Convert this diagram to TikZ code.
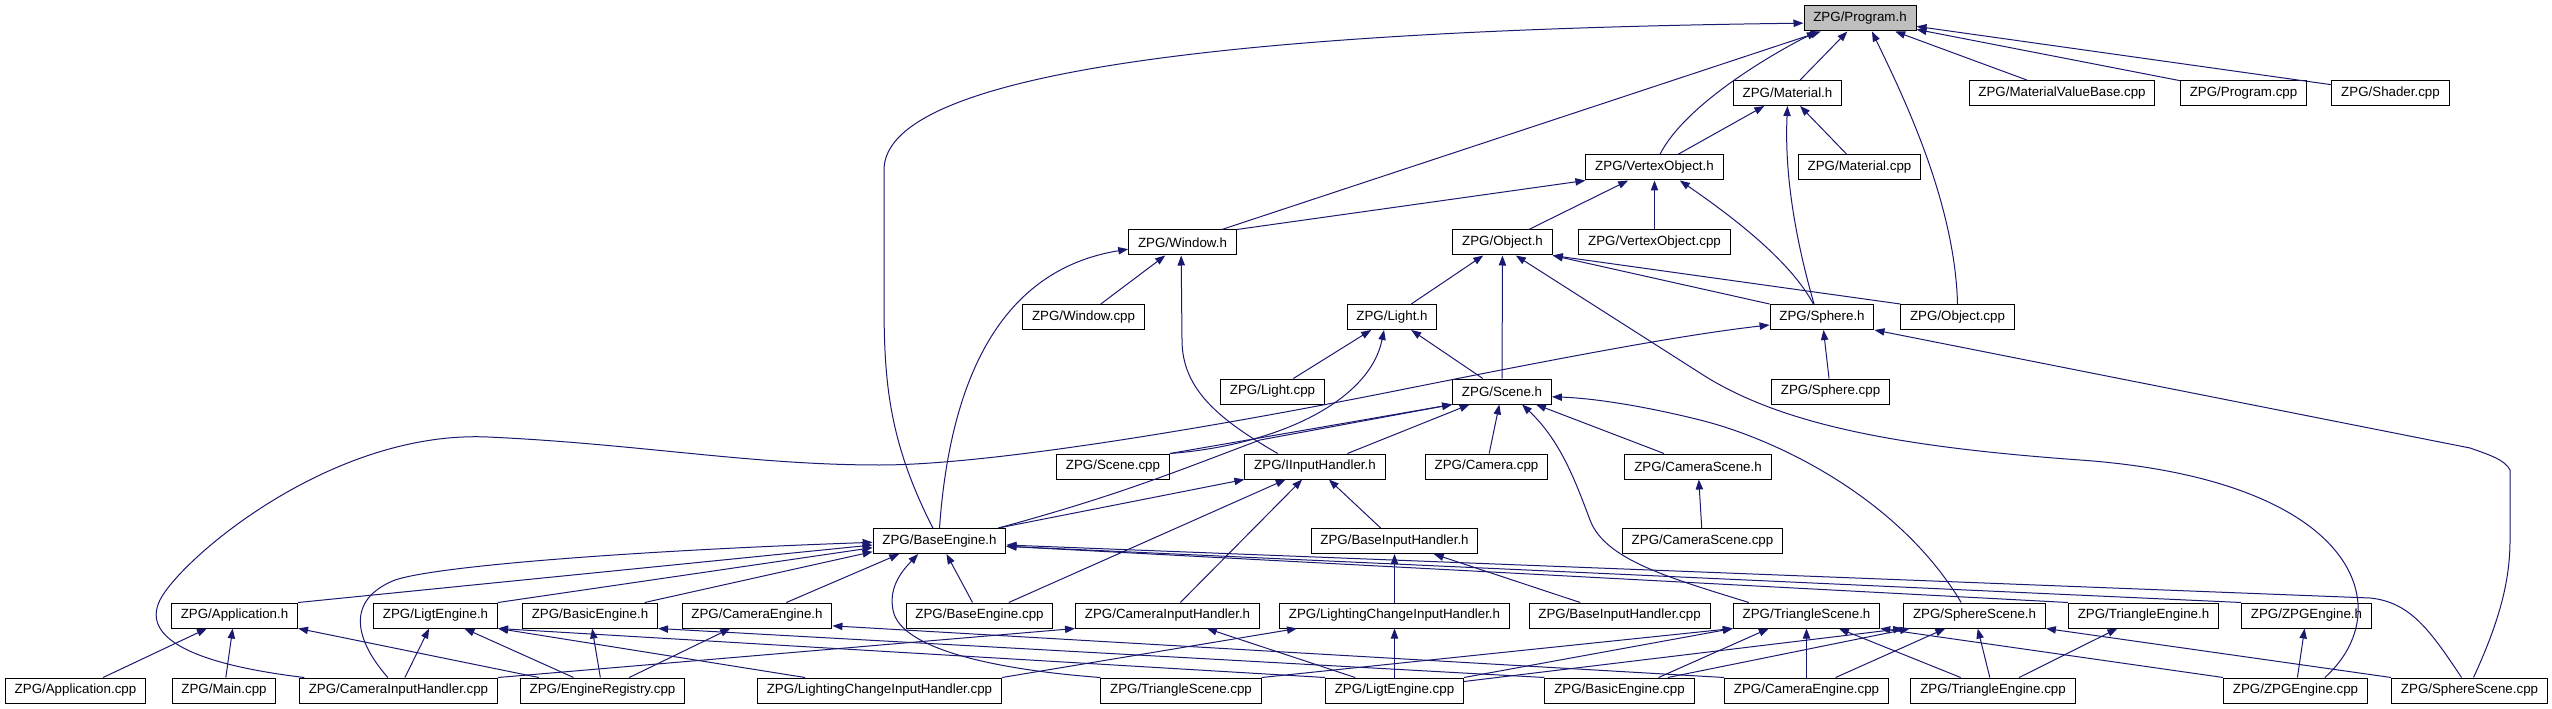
\documentclass[tikz,border=0pt]{standalone}
\usepackage{fontspec}
\setmainfont{Liberation Sans}
\usetikzlibrary{arrows.meta}
\definecolor{depblue}{RGB}{25,25,112}
\definecolor{focusgray}{RGB}{191,191,191}

\begin{document}
\begin{tikzpicture}[
  x=0.75pt, y=-0.75pt,
  font=\fontsize{10}{12}\selectfont,
  file/.style={draw=black,fill=white,line width=0.75pt,
    minimum height=18.75pt,inner xsep=7pt,inner ysep=0pt},
  focus/.style={file,fill=focusgray},
  dep/.style={draw=depblue,line width=0.75pt,
    -{Triangle[length=7.5pt,width=5.5pt]}}
]
  \useasboundingbox (0,0) rectangle (2552,709);

  \node[focus] (prog) at (1860,18.5) {ZPG/Program.h};
  \node[file] (mat) at (1787.5,93) {ZPG/Material.h};
  \node[file] (mvb) at (2062,93) {ZPG/MaterialValueBase.cpp};
  \node[file] (progcpp) at (2243.5,93) {ZPG/Program.cpp};
  \node[file] (shader) at (2390.5,93) {ZPG/Shader.cpp};
  \node[file] (vo) at (1654.5,167.5) {ZPG/VertexObject.h};
  \node[file] (matcpp) at (1859.5,167.5) {ZPG/Material.cpp};
  \node[file] (win) at (1182.5,242.5) {ZPG/Window.h};
  \node[file] (obj) at (1502.5,242.5) {ZPG/Object.h};
  \node[file] (vocpp) at (1654.5,242.5) {ZPG/VertexObject.cpp};
  \node[file] (wincpp) at (1083.5,317) {ZPG/Window.cpp};
  \node[file] (light) at (1392,317) {ZPG/Light.h};
  \node[file] (sphere) at (1822,317) {ZPG/Sphere.h};
  \node[file] (objcpp) at (1957.5,317) {ZPG/Object.cpp};
  \node[file] (lightcpp) at (1272.5,391.5) {ZPG/Light.cpp};
  \node[file] (scene) at (1502,391.5) {ZPG/Scene.h};
  \node[file] (spherecpp) at (1830.5,391.5) {ZPG/Sphere.cpp};
  \node[file] (scenecpp) at (1113,466.5) {ZPG/Scene.cpp};
  \node[file] (iih) at (1315,466.5) {ZPG/IInputHandler.h};
  \node[file] (camcpp) at (1486.5,466.5) {ZPG/Camera.cpp};
  \node[file] (camsc) at (1698,466.5) {ZPG/CameraScene.h};
  \node[file] (baseh) at (939.5,541) {ZPG/BaseEngine.h};
  \node[file] (bih) at (1394.5,541) {ZPG/BaseInputHandler.h};
  \node[file] (camsccpp) at (1702.5,541) {ZPG/CameraScene.cpp};
  \node[file] (apph) at (234.5,615.5) {ZPG/Application.h};
  \node[file] (ligth) at (435.5,615.5) {ZPG/LigtEngine.h};
  \node[file] (basich) at (590,615.5) {ZPG/BasicEngine.h};
  \node[file] (cameh) at (757,615.5) {ZPG/CameraEngine.h};
  \node[file] (basecpp) at (979.5,615.5) {ZPG/BaseEngine.cpp};
  \node[file] (cihh) at (1167.5,615.5) {ZPG/CameraInputHandler.h};
  \node[file] (lcih) at (1394.5,615.5) {ZPG/LightingChangeInputHandler.h};
  \node[file] (bihcpp) at (1619.5,615.5) {ZPG/BaseInputHandler.cpp};
  \node[file] (trish) at (1806.5,615.5) {ZPG/TriangleScene.h};
  \node[file] (sphsh) at (1974.5,615.5) {ZPG/SphereScene.h};
  \node[file] (trieh) at (2143.5,615.5) {ZPG/TriangleEngine.h};
  \node[file] (zpgh) at (2306.5,615.5) {ZPG/ZPGEngine.h};
  \node[file] (appcpp) at (75.5,690.5) {ZPG/Application.cpp};
  \node[file] (maincpp) at (224,690.5) {ZPG/Main.cpp};
  \node[file] (cihcpp) at (398.5,690.5) {ZPG/CameraInputHandler.cpp};
  \node[file] (regcpp) at (602.5,690.5) {ZPG/EngineRegistry.cpp};
  \node[file] (lcihcpp) at (879.5,690.5) {ZPG/LightingChangeInputHandler.cpp};
  \node[file] (triscpp) at (1181,690.5) {ZPG/TriangleScene.cpp};
  \node[file] (ligtcpp) at (1394.5,690.5) {ZPG/LigtEngine.cpp};
  \node[file] (basiccpp) at (1619.5,690.5) {ZPG/BasicEngine.cpp};
  \node[file] (camecpp) at (1806.5,690.5) {ZPG/CameraEngine.cpp};
  \node[file] (triecpp) at (1993,690.5) {ZPG/TriangleEngine.cpp};
  \node[file] (zpgcpp) at (2295.5,690.5) {ZPG/ZPGEngine.cpp};
  \node[file] (sphscpp) at (2469.5,690.5) {ZPG/SphereScene.cpp};

  \draw[dep] ([xshift=-5pt]baseh.north) .. controls (888,440) and (884,380) .. (884,300)
    -- (884,170) .. controls (884,70) and (1250,30) .. ([yshift=-3.5pt]prog.west);
  \draw[dep] (win) -- (prog);
  \draw[dep] ([xshift=4pt]vo.north) .. controls (1685,105) and (1770,55) .. ([xshift=10pt]prog.south west);
  \draw[dep] (mat) -- (prog);
  \draw[dep] (objcpp.north) .. controls (1955,200) and (1900,90) .. ([xshift=9pt]prog.south);
  \draw[dep] (mvb) -- (prog);
  \draw[dep] (progcpp) -- (prog);
  \draw[dep] (shader) -- (prog);

  \draw[dep] (vo) -- (mat);
  \draw[dep] ([xshift=-6pt]sphere.north) .. controls (1790,220) and (1785,160) .. (mat.south);
  \draw[dep] (matcpp) -- (mat);

  \draw[dep] (win.north east) -- (vo.south west);
  \draw[dep] (obj) -- (vo);
  \draw[dep] (vocpp) -- (vo);
  \draw[dep] ([xshift=-6.5pt]sphere.north) .. controls (1790,260) and (1730,215) .. ([xshift=19pt]vo.south);

  \draw[dep] (light) -- (obj);
  \draw[dep] (scene) -- (obj);
  \draw[dep] ([xshift=22pt]zpgcpp.north) .. controls (2400,610) and (2360,480) .. (2080,460)
    .. controls (1900,447) and (1780,425) .. (1700,373) -- ([xshift=10pt]obj.south);
  \draw[dep] (sphere.north west) -- (obj.south east);
  \draw[dep] (objcpp.north west) -- (obj.south east);

  \draw[dep] (lightcpp) -- (light);
  \draw[dep] (scene) -- (light);
  \draw[dep] (scenecpp.north east) .. controls (1280,445) and (1370,400) .. ([xshift=-6pt]light.south);

  \draw[dep] (scenecpp.north east) -- (scene.south west);
  \draw[dep] ([xshift=-6pt]baseh.north east) .. controls (1120,495) and (1180,470) .. (1260,440) -- (scene.south west);
  \draw[dep] (iih) -- (scene);
  \draw[dep] (camcpp) -- (scene);
  \draw[dep] (camsc) -- (scene);
  \draw[dep] ([xshift=12pt]trish.north west) .. controls (1670,578) and (1605,560) .. (1590,520)
    .. controls (1575,480) and (1560,440) .. ([xshift=15pt]scene.south);
  \draw[dep] ([xshift=-10pt]sphsh.north) .. controls (1900,500) and (1780,440) .. (1700,420)
    .. controls (1640,405) and (1590,398) .. ([yshift=-4pt]scene.east);

  \draw[dep] (spherecpp) -- (sphere);
  \draw[dep] ([xshift=4pt]cihcpp.north west) .. controls (200,665) and (140,640) .. (160,600)
    .. controls (180,560) and (330,430) .. (488,437) .. controls (640,444) and (750,465) .. (880,465)
    .. controls (1000,465) and (1250,420) .. (1400,390) .. controls (1550,360) and (1680,335) .. ([yshift=-6pt]sphere.west);
  \draw[dep] ([xshift=3pt]sphscpp.north) .. controls (2500,620) and (2510,580) .. (2510,540) -- (2510,470)
    .. controls (2505,460) and (2490,455) .. (2470,448) -- (sphere.south east);

  \draw[dep] (apph.north east) -- ([yshift=-3pt]baseh.west);
  \draw[dep] (ligth.north east) -- ([yshift=-5pt]baseh.west);
  \draw[dep] ([xshift=-10pt]basich.north east) -- ([yshift=-8pt]baseh.west);
  \draw[dep] ([xshift=22pt]cameh.north) -- ([xshift=20pt]baseh.south west);
  \draw[dep] ([xshift=-8pt]cihcpp.north) .. controls (355,640) and (345,600) .. (395,580)
    .. controls (440,565) and (650,550) .. ([yshift=-1pt]baseh.west);
  \draw[dep] (basecpp) -- (baseh);
  \draw[dep] (triscpp.north west) .. controls (1000,670) and (900,650) .. (893,610)
    .. controls (888,585) and (905,568) .. ([xshift=-16pt]baseh.south);
  \draw[dep] (trieh.north west) -- ([yshift=-4pt]baseh.east);
  \draw[dep] (zpgh.north west) -- ([yshift=-4pt]baseh.east);
  \draw[dep] ([xshift=-6pt]sphscpp.north) .. controls (2430,630) and (2410,602) .. (2370,598)
    -- ([yshift=-3pt]baseh.east);

  \draw[dep] ([xshift=-6pt]baseh.north east) -- (iih.south west);
  \draw[dep] (bih) -- (iih);
  \draw[dep] (basecpp) -- (iih);
  \draw[dep] (cihh) -- (iih);

  \draw[dep] (baseh.north) .. controls (950,380) and (1000,270) .. ([yshift=-5pt]win.west);
  \draw[dep] (wincpp) -- (win);
  \draw[dep] ([xshift=-28pt]iih.north) .. controls (1220,420) and (1182,390) .. (1182,340) -- ([xshift=-1pt]win.south);

  \draw[dep] (lcih) -- (bih);
  \draw[dep] (bihcpp) -- (bih);
  \draw[dep] (camsccpp) -- (camsc);

  \draw[dep] (appcpp) -- (apph);
  \draw[dep] (maincpp) -- (apph);
  \draw[dep] (regcpp) -- (apph);
  \draw[dep] (cihcpp) -- (ligth);
  \draw[dep] (regcpp) -- (ligth);
  \draw[dep] (regcpp) -- (basich);
  \draw[dep] (regcpp) -- (cameh);
  \draw[dep] ([xshift=36pt]lcihcpp.north west) -- (ligth.south east);
  \draw[dep] (ligtcpp.north west) -- (ligth.south east);
  \draw[dep] (basiccpp.north west) -- (basich.south east);
  \draw[dep] (camecpp.north west) -- ([yshift=2pt]cameh.south east);
  \draw[dep] (cihcpp.north east) -- (cihh.south west);
  \draw[dep] (ligtcpp) -- (cihh);
  \draw[dep] (ligtcpp) -- (lcih);
  \draw[dep] (lcihcpp.north east) -- ([xshift=13.5pt]lcih.south west);

  \draw[dep] (triscpp.north east) -- (trish.south west);
  \draw[dep] (ligtcpp.north east) -- (trish.south west);
  \draw[dep] ([yshift=-3pt]ligtcpp.north east) -- (sphsh.south west);
  \draw[dep] ([xshift=-27pt]basiccpp.north east) -- ([xshift=27pt]trish.south west);
  \draw[dep] ([xshift=-20pt]basiccpp.north east) -- ([xshift=5pt]sphsh.south west);
  \draw[dep] (camecpp) -- (trish);
  \draw[dep] (camecpp) -- (sphsh);
  \draw[dep] (triecpp) -- (trish);
  \draw[dep] (triecpp) -- (sphsh);
  \draw[dep] (triecpp) -- (trieh);
  \draw[dep] (zpgcpp) -- (zpgh);
  \draw[dep] (zpgcpp.north west) -- (trish.south east);
  \draw[dep] (sphscpp.north west) -- (sphsh.south east);
\end{tikzpicture}
\end{document}
